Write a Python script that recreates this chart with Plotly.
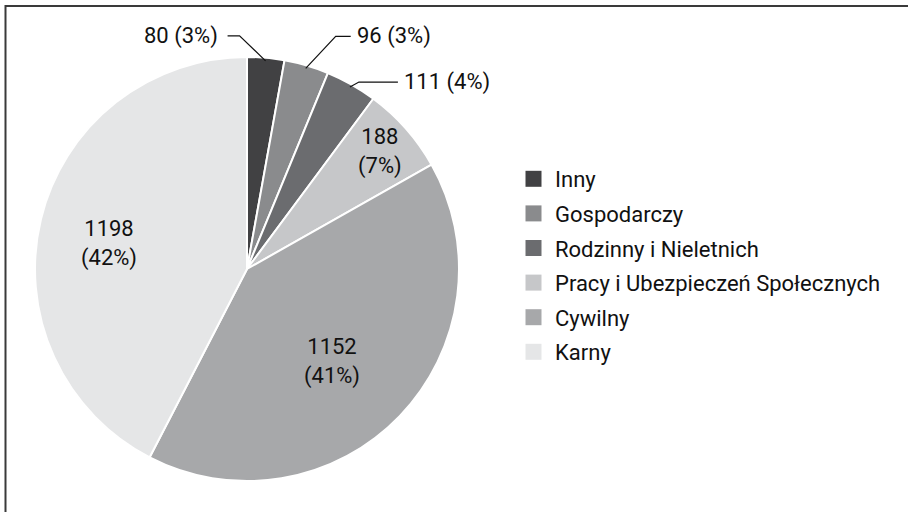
import math
import plotly.graph_objects as go

# ---- data ----
categories = ["Inny", "Gospodarczy", "Rodzinny i Nieletnich",
              "Pracy i Ubezpieczeń Społecznych", "Cywilny", "Karny"]
values = [80, 96, 111, 188, 1152, 1198]

# ---- styles ----
colors = ["#414143", "#8a8b8d", "#6b6c6f", "#c6c7c9", "#a7a8aa", "#e5e6e7"]
FONT = "Roboto, 'Liberation Sans', sans-serif"
FS = 22
TXT = "#111111"

W, H = 908, 512
cx, cy, R = 247, 269, 212   # pie centre / radius in pixels

# outside labels: leader elbow offset (dx, dy) and horizontal run (px)
leader_style = {0: (-26, -25, -12), 1: (30, -32, 15), 2: (9, -5, 39)}
# inside labels: (angle tweak in degrees, radius as fraction of R)
inside_style = {3: (0, 0.835), 4: (3.4, 0.591), 5: (-3, 0.66)}

fig = go.Figure()
fig.add_trace(go.Pie(
    labels=categories,
    values=values,
    sort=False,
    direction="clockwise",
    rotation=0,
    marker=dict(colors=colors, line=dict(color="white", width=2)),
    textinfo="none",
    domain=dict(x=[(cx - R) / W, (cx + R) / W], y=[1 - (cy + R) / H, 1 - (cy - R) / H]),
    showlegend=False,
    hoverinfo="label+value+percent",
))

# legend entries (square swatches)
for i, (name, col) in enumerate(zip(categories, colors)):
    fig.add_trace(go.Scatter(
        x=[None], y=[None], mode="markers", name=name,
        marker=dict(symbol="square", size=17, color=col, line=dict(width=0)),
        legendgroup=f"g{i}", showlegend=True, hoverinfo="skip",
    ))

def px2paper(x, y):
    return x / W, 1 - y / H

total = sum(values)
shapes = []
annotations = []
cum = 0
for i, v in enumerate(values):
    mid = (cum + v / 2) / total
    cum += v
    pct = round(v / total * 100)
    th = 2 * math.pi * mid
    if i in leader_style:
        sx = cx + (R - 3) * math.sin(th)
        sy = cy - (R - 3) * math.cos(th)
        dx, dy, run = leader_style[i]
        ex, ey = sx + dx, sy + dy
        fx, fy = ex + run, ey
        p = [px2paper(*q) for q in [(sx, sy), (ex, ey), (fx, fy)]]
        shapes.append(dict(type="path", xref="paper", yref="paper",
                           path="M {0} {1} L {2} {3} L {4} {5}".format(p[0][0], p[0][1], p[1][0], p[1][1], p[2][0], p[2][1]),
                           line=dict(color=TXT, width=1.2)))
        tx, ty = px2paper(fx + (-8 if run < 0 else 4), fy)
        annotations.append(dict(x=tx, y=ty, xref="paper", yref="paper",
                                text=f"{v} ({pct}%)", showarrow=False,
                                xanchor="right" if run < 0 else "left", yanchor="middle",
                                font=dict(family=FONT, size=FS, color=TXT)))
    elif i in inside_style:
        dth, k = inside_style[i]
        a = th + math.radians(dth)
        lx = cx + k * R * math.sin(a)
        ly = cy - k * R * math.cos(a)
        tx, ty = px2paper(lx, ly)
        annotations.append(dict(x=tx, y=ty, xref="paper", yref="paper",
                                text=f"{v}<br>({pct}%)", showarrow=False,
                                xanchor="center", yanchor="middle",
                                font=dict(family=FONT, size=FS, color=TXT)))

# outer frame (only top and left edges fall inside the picture)
shapes.append(dict(type="rect", xref="paper", yref="paper",
                   x0=5.5 / W, x1=1.2, y0=-0.2, y1=1 - 6 / H,
                   line=dict(color="#3a3a3a", width=2)))

fig.update_layout(
    width=W, height=H,
    margin=dict(l=0, r=0, t=0, b=0, autoexpand=False),
    paper_bgcolor="white",
    plot_bgcolor="white",
    font=dict(family=FONT, size=FS, color=TXT),
    xaxis=dict(visible=False),
    yaxis=dict(visible=False),
    shapes=shapes,
    annotations=annotations,
    legend=dict(x=512 / W, y=1 - 158 / H, xanchor="left", yanchor="top",
                font=dict(family=FONT, size=FS, color=TXT),
                bgcolor="rgba(0,0,0,0)", traceorder="grouped", tracegroupgap=3,
                itemsizing="trace", itemwidth=33),
)

fig.write_html("out.html", config={"displayModeBar": False},
               post_script="document.body.style.margin='0';")
